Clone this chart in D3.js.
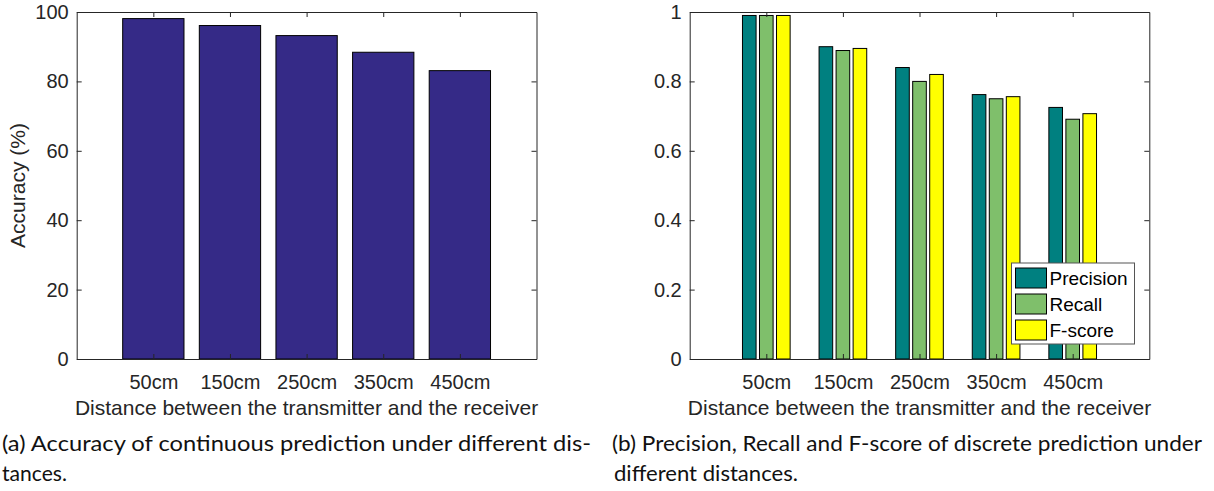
<!DOCTYPE html>
<html>
<head>
<meta charset="utf-8">
<script src="https://cdn.jsdelivr.net/npm/d3@7"></script>
<style>
  body { margin: 0; background: #fff; }
  svg { display: block; }
  .tick text { font-family: "Liberation Sans", Arial, sans-serif; font-size: 20px; fill: #262626; }
  .caption { font-family: Lato, "Noto Sans", sans-serif; font-size: 21px; fill: #111; }
</style>
</head>
<body>
<div id="chart"></div>
<script>
// data
const distances = ['50cm', '150cm', '250cm', '350cm', '450cm'];
const accuracy = [98.1, 96.1, 93.2, 88.4, 83.1];
const precision = [0.99, 0.9, 0.84, 0.762, 0.725];
const recall = [0.99, 0.889, 0.8, 0.75, 0.691];
const fscore = [0.99, 0.895, 0.82, 0.756, 0.707];
const seriesNames = ['Precision', 'Recall', 'F-score'];
const seriesColors = ['#008080', '#7fbf6b', '#ffff00'];
const accTicks = [0, 20, 40, 60, 80, 100];
const scoreTicks = [0, 0.2, 0.4, 0.6, 0.8, 1];

const width = 1214, height = 491;
const axisColor = '#262626';
const fontAxis = '"Liberation Sans", Arial, sans-serif';

const svg = d3.select('#chart').append('svg').attr('width', width).attr('height', height);

// draws the box, ticks and labels for one panel, returns scales
const makeAxes = (left, right, yDomain, yTicks, yFmt, yLabel) => {
    const top = 12, bottom = 359;
    const x = d3.scaleLinear().domain([0, distances.length + 1]).range([left, right]);
    const y = d3.scaleLinear().domain(yDomain).range([bottom, top]);
    const idx = distances.map((d, i) => i + 1);

    const g = svg.append('g');
    g.append('g').attr('transform', `translate(0, ${bottom})`)
        .call(d3.axisBottom(x).tickValues(idx).tickFormat((d) => distances[d - 1])
            .tickSizeInner(-5).tickSizeOuter(0).tickPadding(16));
    g.append('g').attr('transform', `translate(0, ${top})`)
        .call(d3.axisTop(x).tickValues(idx).tickFormat('').tickSizeInner(-5).tickSizeOuter(0));
    g.append('g').attr('transform', `translate(${left}, 0)`)
        .call(d3.axisLeft(y).tickValues(yTicks).tickFormat(yFmt).tickSizeInner(-5).tickSizeOuter(0).tickPadding(8));
    g.append('g').attr('transform', `translate(${right}, 0)`)
        .call(d3.axisRight(y).tickValues(yTicks).tickFormat('').tickSizeInner(-5).tickSizeOuter(0));
    g.selectAll('.domain, .tick line').attr('stroke', axisColor);

    g.append('text')
        .attr('x', (left + right) / 2)
        .attr('y', 415)
        .attr('text-anchor', 'middle')
        .style('font-family', fontAxis)
        .style('font-size', '21px')
        .style('fill', axisColor)
        .text('Distance between the transmitter and the receiver');

    if (yLabel) {
        g.append('text')
            .attr('transform', `translate(25, ${(top + bottom) / 2}) rotate(-90)`)
            .attr('text-anchor', 'middle')
            .style('font-family', fontAxis)
            .style('font-size', '21px')
            .style('fill', axisColor)
            .text(yLabel);
    }
    return { x, y, g };
};

// PANEL A
const a = makeAxes(76.7, 536.5, [0, 100], accTicks, (d) => d, 'Accuracy (%)');
const barW = 0.8;
a.g.insert('g', ':first-child')
    .selectAll('rect')
    .data(accuracy)
    .enter()
    .append('rect')
    .attr('x', (d, i) => a.x(i + 1 - barW / 2))
    .attr('width', a.x(barW) - a.x(0))
    .attr('y', (d) => a.y(d))
    .attr('height', (d) => a.y(0) - a.y(d))
    .attr('fill', '#352a87')
    .attr('stroke', '#000')
    .attr('stroke-width', 1);

// PANEL B
const b = makeAxes(689.7, 1149.3, [0, 1], scoreTicks, (d) => d, null);
const series = [precision, recall, fscore];
const slot = (3 / 4.5) / 3; // matlab grouped bar spacing
const gbW = slot * 0.8;
const barsB = b.g.insert('g', ':first-child');
series.forEach((vals, s) => {
    barsB.append('g')
        .selectAll('rect')
        .data(vals)
        .enter()
        .append('rect')
        .attr('x', (d, i) => b.x(i + 1 + (s - 1) * slot - gbW / 2))
        .attr('width', b.x(gbW) - b.x(0))
        .attr('y', (d) => b.y(d))
        .attr('height', (d) => b.y(0) - b.y(d))
        .attr('fill', seriesColors[s])
        .attr('stroke', '#000')
        .attr('stroke-width', 1);
});

// legend
const legend = b.g.append('g').attr('transform', 'translate(1011.5, 263)');
legend.append('rect')
    .attr('width', 123)
    .attr('height', 81)
    .attr('fill', '#fff')
    .attr('stroke', '#555')
    .attr('stroke-width', 1);
seriesNames.forEach((name, s) => {
    legend.append('rect')
        .attr('x', 4)
        .attr('y', 5 + s * 26)
        .attr('width', 31)
        .attr('height', 20)
        .attr('fill', seriesColors[s])
        .attr('stroke', '#000');
    legend.append('text')
        .attr('x', 38)
        .attr('y', 15 + s * 26)
        .attr('dy', '0.35em')
        .style('font-family', fontAxis)
        .style('font-size', '19px')
        .style('fill', '#000')
        .text(name);
});

// captions
const captions = [
    { x: 2, y: 451, w: 589, t: '(a) Accuracy of continuous prediction under different dis-' },
    { x: 2, y: 481, w: 65, t: 'tances.' },
    { x: 612, y: 451, w: 590, t: '(b) Precision, Recall and F-score of discrete prediction under' },
    { x: 614, y: 481, w: 184, t: 'different distances.' }
];
svg.selectAll('.caption')
    .data(captions)
    .enter()
    .append('text')
    .attr('class', 'caption')
    .attr('x', (d) => d.x)
    .attr('y', (d) => d.y)
    .attr('textLength', (d) => d.w)
    .attr('lengthAdjust', 'spacingAndGlyphs')
    .text((d) => d.t);
</script>
</body>
</html>
